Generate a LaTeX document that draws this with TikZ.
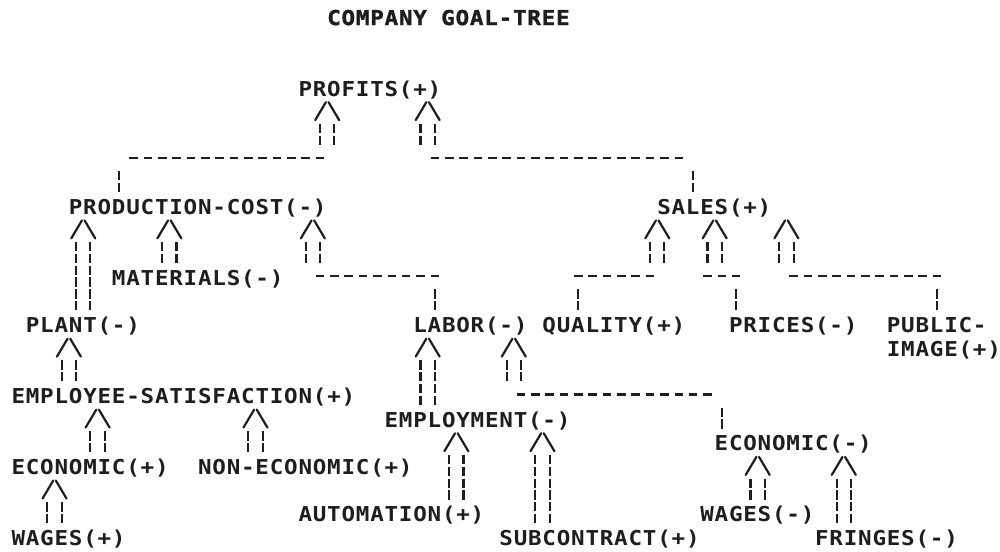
\documentclass[tikz,border=0pt]{standalone}
\usepackage{fontspec}
\newfontfamily\lpfont{DejaVu Sans Mono}[FakeStretch=1.1,LetterSpace=3.8]
\newfontfamily\lptitle{DejaVu Sans Mono}[FakeStretch=1.1,LetterSpace=3.8,FakeBold=1.5]
\usetikzlibrary{calc}
\definecolor{ink}{RGB}{30,30,30}
\tikzset{
  goaltext/.style={anchor=base west, inner sep=0pt, outer sep=0pt, text=ink,
    font=\lpfont\bfseries\fontsize{20.5pt}{23.65pt}\selectfont},
  titletext/.style={goaltext, font=\lptitle\bfseries\fontsize{20.5pt}{23.65pt}\selectfont},
  chev/.style={draw=ink, line width=2.2pt, line cap=round},
  vbar/.style={draw=ink, line width=2.1pt, dash pattern=on 9.3pt off 2.5pt},
  hbar/.style={draw=ink, line width=2.5pt, dash pattern=on 8.6pt off 5.75pt},
}
% chevron under parent #1 at column boundary #2, double bars down to the row above #3
\newcommand\goalup[3]{%
  \coordinate (gA) at ($(#1.base west)+(#2,1)$);
  \draw[chev] ($(gA)+(-12pt,-0.5pt)$) -- ($(gA)+(-1.3pt,17.5pt)$);
  \draw[chev] ($(gA)+(1.3pt,17.5pt)$) -- ($(gA)+(12pt,-0.5pt)$);
  \foreach \s in {-0.5,0.5}{%
    \draw[vbar] ($(gA)+(\s,1)+(0pt,19.5pt)$) -- ($(gA |- #3)+(\s,-1)+(0pt,-3pt)$);
  }%
}
% horizontal dashed run, row offset #2 from node #1, columns #3..#4 relative to #1
\newcommand\dashrun[4]{%
  \draw[hbar] ($(#1.base west)+(#3,#2)+(2.9pt,9pt)$) -- ($(#1.base west)+(#4+1,#2)+(-2.9pt,9pt)$);%
}
% single broken bar just above node #1, at column #2 relative to #1
\newcommand\goaltick[2]{%
  \draw[vbar] ($(#1.base west)+(#2+0.5,-1)+(0pt,19.5pt)$) -- ($(#1.base west)+(#2+0.5,-1)+(0pt,-3pt)$);%
}
\begin{document}
\begin{tikzpicture}[x=14.35pt,y=-23.65pt]
\path[use as bounding box, fill=white] (0pt,0pt) rectangle (1000pt,-551pt);
\begin{scope}[shift={(11.5pt,-96pt)}]
\node[titletext] (title) at (22,-3) {COMPANY GOAL-TREE};
\node[goaltext] (profits) at (20,0) {PROFITS(+)};
\node[goaltext] (prodcost) at (4,5) {PRODUCTION-COST(-)};
\node[goaltext] (sales) at (45,5) {SALES(+)};
\node[goaltext] (materials) at (7,8) {MATERIALS(-)};
\node[goaltext] (plant) at (1,10) {PLANT(-)};
\node[goaltext] (labor) at (28,10) {LABOR(-)};
\node[goaltext] (quality) at (37,10) {QUALITY(+)};
\node[goaltext] (prices) at (50,10) {PRICES(-)};
\node[goaltext] (public) at (61,10) {\begin{tabular}[t]{@{}l@{}}PUBLIC-\\IMAGE(+)\end{tabular}};
\node[goaltext] (empsat) at (0,13) {EMPLOYEE-SATISFACTION(+)};
\node[goaltext] (employment) at (26,14) {EMPLOYMENT(-)};
\node[goaltext] (econm) at (49,15) {ECONOMIC(-)};
\node[goaltext] (econp) at (0,16) {ECONOMIC(+)};
\node[goaltext] (nonecon) at (13,16) {NON-ECONOMIC(+)};
\node[goaltext] (automation) at (20,18) {AUTOMATION(+)};
\node[goaltext] (wagesm) at (48,18) {WAGES(-)};
\node[goaltext] (wagesp) at (0,19) {WAGES(+)};
\node[goaltext] (subcontract) at (34,19) {SUBCONTRACT(+)};
\node[goaltext] (fringes) at (56,19) {FRINGES(-)};
% PROFITS -> PRODUCTION-COST
\coordinate (jA) at ($(prodcost.base west)+(0,-2)$);
\goalup{profits}{2}{jA}
\dashrun{prodcost}{-2}{4}{17}
\goaltick{prodcost}{3}
% PROFITS -> SALES
\coordinate (jB) at ($(sales.base west)+(0,-2)$);
\goalup{profits}{9}{jB}
\dashrun{sales}{-2}{-16}{1}
\goaltick{sales}{2}
% PRODUCTION-COST -> PLANT, MATERIALS, LABOR
\goalup{prodcost}{1}{plant.base}
\goalup{prodcost}{7}{materials.base}
\coordinate (jE) at ($(labor.base west)+(0,-2)$);
\goalup{prodcost}{17}{jE}
\dashrun{labor}{-2}{-7}{1}
\goaltick{labor}{1}
% SALES -> QUALITY, PRICES, PUBLIC-IMAGE
\coordinate (jF) at ($(quality.base west)+(0,-2)$);
\goalup{sales}{0}{jF}
\dashrun{quality}{-2}{2}{7}
\goaltick{quality}{2}
\coordinate (jG) at ($(prices.base west)+(0,-2)$);
\goalup{sales}{4}{jG}
\dashrun{prices}{-2}{-2}{0}
\goaltick{prices}{0}
\coordinate (jH) at ($(public.base west)+(0,-2)$);
\goalup{sales}{9}{jH}
\dashrun{public}{-2}{-7}{3}
\goaltick{public}{3}
% PLANT -> EMPLOYEE-SATISFACTION
\goalup{plant}{3}{empsat.base}
% LABOR -> EMPLOYMENT, ECONOMIC(-)
\goalup{labor}{1}{employment.base}
\coordinate (jK) at ($(econm.base west)+(0,-2)$);
\goalup{labor}{7}{jK}
\dashrun{econm}{-2}{-14}{-1}
\goaltick{econm}{0}
% EMPLOYEE-SATISFACTION -> ECONOMIC(+), NON-ECONOMIC(+)
\goalup{empsat}{6}{econp.base}
\goalup{empsat}{17}{nonecon.base}
% EMPLOYMENT -> AUTOMATION, SUBCONTRACT
\goalup{employment}{5}{automation.base}
\goalup{employment}{11}{subcontract.base}
% ECONOMIC(-) -> WAGES(-), FRINGES(-)
\goalup{econm}{3}{wagesm.base}
\goalup{econm}{9}{fringes.base}
% ECONOMIC(+) -> WAGES(+)
\goalup{econp}{3}{wagesp.base}
\end{scope}
\end{tikzpicture}
\end{document}
